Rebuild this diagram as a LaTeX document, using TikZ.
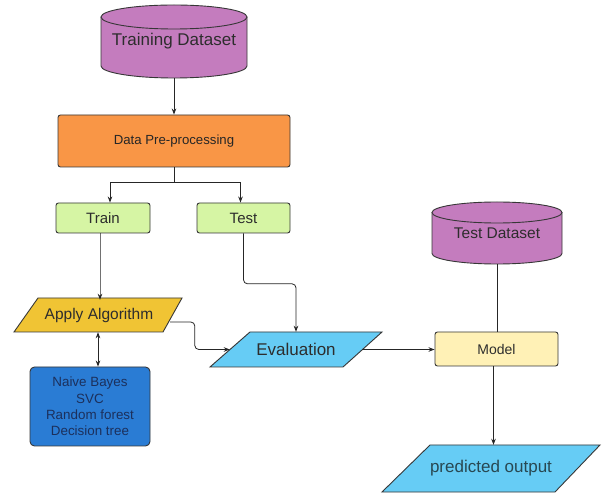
\documentclass[tikz,border=0pt]{standalone}
\usepackage{fontspec}
\setmainfont{Liberation Sans}
\usetikzlibrary{arrows.meta,calc}
\definecolor{cylpurple}{RGB}{196,124,190}
\definecolor{preorange}{RGB}{249,150,70}
\definecolor{boxgreen}{RGB}{214,245,164}
\definecolor{algogold}{RGB}{240,196,52}
\definecolor{algblue}{RGB}{42,124,212}
\definecolor{paracyan}{RGB}{102,204,245}
\definecolor{modelyellow}{RGB}{255,241,182}
\definecolor{edgegray}{RGB}{55,55,55}
\definecolor{txt}{RGB}{45,45,45}
\definecolor{navytxt}{RGB}{28,48,92}
\definecolor{predtxt}{RGB}{40,72,82}
\begin{document}
\begin{tikzpicture}[x=1pt,y=-1pt,
  shapeline/.style={draw=edgegray,line width=0.9pt},
  box/.style={shapeline,rounded corners=2.5pt,inner sep=0pt,text=txt},
  ghost/.style={inner sep=0pt,text=txt},
  conn/.style={line width=0.8pt,draw=black!85},
  arr/.style={conn,-{Stealth[length=6pt,width=4.5pt]}},
  darr/.style={conn,{Stealth[length=6pt,width=4.5pt]}-{Stealth[length=6pt,width=4.5pt]}}]
\useasboundingbox (0,0) rectangle (603,494);
\fill[white] (0,0) rectangle (603,494);

% Training Dataset cylinder
\filldraw[shapeline,fill=cylpurple] (101,17) -- (101,66)
  arc[start angle=180,end angle=360,x radius=73pt,y radius=12pt] -- (247,17);
\filldraw[shapeline,fill=cylpurple] (174,17) ellipse[x radius=73pt,y radius=12pt];
\node[ghost,minimum width=146pt,minimum height=73pt,font=\fontsize{17}{20}\selectfont] (trainds) at (174,41.5) {Training Dataset};

% Data Pre-processing
\node[box,fill=preorange,minimum width=232pt,minimum height=52pt,font=\fontsize{13.2}{15}\selectfont,text=black!85] (pre) at (174,141) {Data Pre-processing};

% Train / Test
\node[box,fill=boxgreen,minimum width=94pt,minimum height=30pt,font=\fontsize{15}{18}\selectfont] (train) at (103,218) {Train};
\node[box,fill=boxgreen,minimum width=93pt,minimum height=30pt,font=\fontsize{15}{18}\selectfont] (test) at (243.5,218) {Test};

% Apply Algorithm parallelogram
\filldraw[shapeline,fill=algogold] (38,298) -- (182,298) -- (163,332) -- (14,332) -- cycle;
\node[ghost,minimum width=142pt,minimum height=34pt,font=\fontsize{15.5}{18}\selectfont] (apply) at (99,315) {Apply Algorithm};

% Algorithms box
\node[box,rounded corners=4.5pt,fill=algblue,minimum width=120pt,minimum height=79pt,align=center,font=\fontsize{13.4}{16.3}\selectfont,text=navytxt] (algs) at (90,406.5) {Naive Bayes\\SVC\\Random forest\\Decision tree};

% Evaluation parallelogram
\filldraw[shapeline,fill=paracyan] (250,332) -- (382,332) -- (343,367) -- (210,367) -- cycle;
\node[ghost,minimum width=132pt,minimum height=35pt,font=\fontsize{17}{20}\selectfont] (eval) at (296,349.5) {Evaluation};

% Test Dataset cylinder
\filldraw[shapeline,fill=cylpurple] (432,212.5) -- (432,253.5)
  arc[start angle=180,end angle=360,x radius=65pt,y radius=10.5pt] -- (562,212.5);
\filldraw[shapeline,fill=cylpurple] (497,212.5) ellipse[x radius=65pt,y radius=10.5pt];
\node[ghost,minimum width=130pt,minimum height=62pt,font=\fontsize{15.5}{18}\selectfont] (testds) at (497,233) {Test Dataset};

% Model
\node[box,fill=modelyellow,minimum width=123pt,minimum height=34pt,font=\fontsize{14}{17}\selectfont] (model) at (496.5,349) {Model};

% predicted output parallelogram
\filldraw[shapeline,fill=paracyan] (430,445) -- (600,445) -- (555,492) -- (382,492) -- cycle;
\node[ghost,minimum width=170pt,minimum height=47pt,font=\fontsize{17}{20}\selectfont,text=predtxt] (pred) at (491,468.5) {predicted output};

% connectors
\draw[arr] (trainds.south) -- (pre.north);
\draw[arr] (pre.south) -- ++(0,15) -| ([xshift=7pt]train.north);
\draw[arr] (pre.south) -- ++(0,15) -| ([xshift=-3pt]test.north);
\draw[arr] ([xshift=-3pt]train.south) -- ([xshift=-3pt]train.south |- apply.north) -- ++(0,2);
\draw[darr] ([xshift=-1pt]apply.south) -- ([xshift=-1pt]apply.south |- algs.north);
\draw[arr,rounded corners=4pt] ([yshift=-7pt]apply.east) -| ($(eval.west)+(-35,0)$) -- (eval.west);
\draw[arr,rounded corners=4pt] (test.south) |- ($(eval.north)+(0,-48)$) -- (eval.north);
\draw[arr] (eval.east) -- (eval.east -| model.west);
\draw[conn] (testds.south) -- (testds.south |- model.north);
\draw[arr] ([xshift=-3pt]model.south) -- ([xshift=-3pt]model.south |- pred.north);
\end{tikzpicture}
\end{document}
